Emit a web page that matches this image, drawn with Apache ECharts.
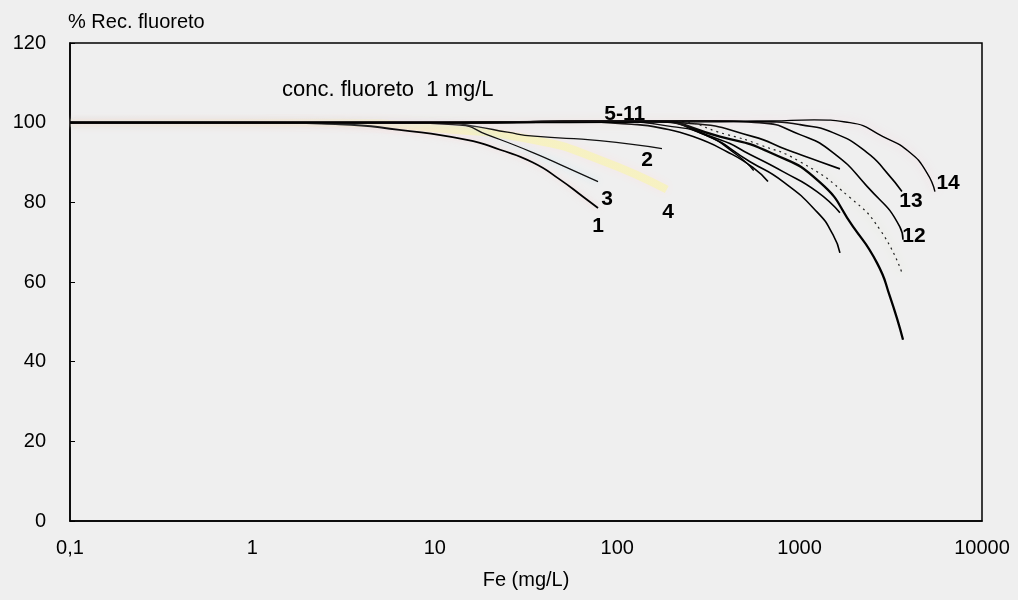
<!DOCTYPE html>
<html>
<head>
<meta charset="utf-8">
<script src="https://cdn.jsdelivr.net/npm/echarts@6/dist/echarts.min.js"></script>
<style>
  html, body { margin: 0; padding: 0; background: #efefef; }
  #chart { width: 1018px; height: 600px; }
</style>
</head>
<body>
<div id="chart"></div>
<script>
// Fluoride recovery (%) versus iron concentration (mg/L), fluoride 1 mg/L
const xTicks = [0.1, 1, 10, 100, 1000, 10000];
const yTicks = [0, 20, 40, 60, 80, 100, 120];

const fe1  = [0.1, 1, 3, 6.4, 15, 22.8, 34.5, 48.6, 65, 78.5];
const rec1 = [100, 100, 99.6, 98.2, 95.7, 93.2, 90, 85.7, 81.4, 78.6];

const fe2  = [0.1, 5, 12, 17, 25, 35, 80, 176];
const rec2 = [100, 100, 99.8, 99, 97.6, 96.6, 95.5, 93.5];

const fe3  = [0.1, 5, 13.7, 19.3, 34.5, 53, 78.5];
const rec3 = [100, 100, 99.4, 97, 92.5, 88.7, 85.2];

const fe4  = [0.1, 3, 10, 34.5, 80, 187];
const rec4 = [100, 100, 98.6, 95.7, 90.7, 83.2];

const fe5  = [0.1, 10, 50, 120, 172, 261, 400, 556, 671];
const rec5 = [100, 100, 100.3, 99.6, 98.7, 96.5, 92.7, 88.7, 85.2];

const fe6  = [0.1, 10, 100, 250, 556, 853, 1294, 1664];
const rec6 = [100, 100, 100.4, 99.8, 96.5, 93.2, 90.2, 88.4];

const fe7  = [0.1, 10, 150, 366, 535, 811, 1245, 1664];
const rec7 = [100, 100, 100.5, 95.7, 92, 87.7, 82.7, 77.4];

const fe8  = [0.1, 10, 150, 300, 535, 811, 1245, 1524, 1664];
const rec8 = [100, 100, 100.5, 97, 90.2, 85.2, 77.6, 71.9, 67.3];

const fe9  = [0.1, 10, 150, 366, 689, 1294, 1963, 2656, 3130, 3690];
const rec9 = [100, 100, 100.4, 96.5, 92.5, 85, 73.9, 64.8, 56.3, 45.5];

const fe10  = [0.1, 10, 200, 400, 600, 1005, 1888, 2762, 3640];
const rec10 = [100, 100, 100.3, 97, 94.5, 90.2, 81.2, 73.1, 62.3];

const fe11  = [0.1, 10, 100, 200, 300, 450, 560];
const rec11 = [100, 100, 100.2, 99, 97, 92, 88];

const fe12  = [0.1, 10, 300, 600, 1005, 1524, 2344, 3540, 3690];
const rec12 = [100, 100, 100.5, 100, 97, 92.5, 84, 73.9, 70.6];

const fe13  = [0.1, 10, 300, 700, 1005, 1524, 2344, 3013, 3640];
const rec13 = [100, 100, 100.5, 100.2, 99.5, 97.5, 92.5, 87.4, 82.7];

const fe14  = [0.1, 10, 300, 700, 1200, 1888, 2866, 4027, 4990, 5520];
const rec14 = [100, 100, 100.2, 100.4, 100.7, 100, 96.5, 92.5, 87.4, 82.7];

// curve names and where their tags sit (data coordinates)
const tagNames = ['1', '3', '2', '4', '5-11', '14', '13', '12'];
const tagFe    = [78.5, 88, 146, 190, 110, 6520, 4080, 4240];
const tagRec   = [74.1, 80.9, 90.7, 77.4, 102, 84.9, 80.4, 71.6];

const pairs = (xs, ys) => xs.map((x, i) => [x, ys[i]]);
const FONT = '"Liberation Sans", Arial, sans-serif';

function curve(name, xs, ys, style) {
  return Object.assign({
    name: name,
    type: 'line',
    data: pairs(xs, ys),
    smooth: 0.55,
    showSymbol: false,
    symbol: 'none',
    lineStyle: { color: '#000', width: 1.6 },
    z: 3
  }, style || {});
}

// curve 4 survives only as a pale yellow trace, fading toward low Fe
const paleYellow = new echarts.graphic.LinearGradient(0, 0, 1, 0, [
  { offset: 0, color: 'rgba(248,243,196,0.15)' },
  { offset: 0.45, color: 'rgba(248,243,196,0.4)' },
  { offset: 0.7, color: 'rgba(247,242,190,0.9)' },
  { offset: 1, color: 'rgba(247,242,190,0.9)' }
]);

const series = [
  curve('4', fe4, rec4, { lineStyle: { color: paleYellow, width: 8, shadowColor: 'rgba(255,220,220,0.5)', shadowBlur: 10 }, z: 1 }),
  curve('1', fe1, rec1, { lineStyle: { color: '#000', width: 1.8, shadowColor: 'rgba(255,200,200,0.6)', shadowBlur: 6 } }),
  curve('2', fe2, rec2, { lineStyle: { color: '#111', width: 1.3 } }),
  curve('3', fe3, rec3, { lineStyle: { color: '#111', width: 1.3, shadowColor: 'rgba(190,230,245,0.8)', shadowBlur: 6 } }),
  curve('5', fe5, rec5),
  curve('6', fe6, rec6),
  curve('7', fe7, rec7),
  curve('8', fe8, rec8),
  curve('9', fe9, rec9, { lineStyle: { color: '#000', width: 2.3 } }),
  curve('10', fe10, rec10, { lineStyle: { color: '#222', width: 1.2, type: [2, 4], shadowColor: 'rgba(225,240,170,0.9)', shadowBlur: 10 } }),
  curve('11', fe11, rec11, { lineStyle: { color: '#000', width: 1.4 } }),
  curve('12', fe12, rec12),
  curve('13', fe13, rec13),
  curve('14', fe14, rec14, { lineStyle: { color: '#000', width: 1.4, shadowColor: 'rgba(255,200,215,0.8)', shadowBlur: 10 } }),
  {
    name: 'tags',
    type: 'scatter',
    symbolSize: 0,
    itemStyle: { opacity: 1, color: '#000' },
    data: tagNames.map((n, i) => ({ value: [tagFe[i], tagRec[i]], name: n })),
    label: {
      show: true,
      position: 'inside',
      formatter: p => p.name,
      color: '#000',
      textBorderWidth: 0,
      textBorderColor: 'transparent',
      fontFamily: FONT,
      fontWeight: 'bold',
      fontSize: 21
    },
    silent: true,
    z: 5
  }
];

const chart = echarts.init(document.getElementById('chart'), null, { renderer: 'canvas' });
chart.setOption({
  backgroundColor: '#efefef',
  animation: false,
  title: {
    text: 'conc. fluoreto  1 mg/L',
    left: 277,
    top: 74,
    textStyle: { fontFamily: FONT, fontSize: 22, fontWeight: 'normal', color: '#000' }
  },
  grid: {
    left: 70, right: 36, top: 43, bottom: 79,
    show: true,
    borderColor: '#000',
    borderWidth: 1.5,
    backgroundColor: 'transparent'
  },
  xAxis: {
    type: 'log',
    logBase: 10,
    min: xTicks[0],
    max: xTicks[xTicks.length - 1],
    name: 'Fe (mg/L)',
    nameLocation: 'middle',
    nameGap: 49,
    nameTextStyle: { fontFamily: FONT, fontSize: 20, color: '#000' },
    axisLine: { lineStyle: { color: '#000', width: 1.5 } },
    axisTick: { show: false },
    splitLine: { show: false },
    minorTick: { show: false },
    axisLabel: {
      fontFamily: FONT,
      fontSize: 20,
      color: '#000',
      margin: 17,
      formatter: v => String(v).replace('.', ',')
    }
  },
  yAxis: {
    type: 'value',
    min: yTicks[0],
    max: yTicks[yTicks.length - 1],
    interval: 20,
    name: '% Rec. fluoreto',
    nameLocation: 'end',
    nameGap: 11,
    nameTextStyle: { fontFamily: FONT, fontSize: 20, color: '#000', align: 'left', padding: [0, 0, 0, -2] },
    axisLine: { show: true, lineStyle: { color: '#000', width: 1.5 } },
    axisTick: { show: true, inside: true, length: 5, lineStyle: { color: '#000' } },
    splitLine: { show: false },
    axisLabel: { fontFamily: FONT, fontSize: 20, color: '#000', margin: 24 }
  },
  series: series
});
</script>
</body>
</html>
